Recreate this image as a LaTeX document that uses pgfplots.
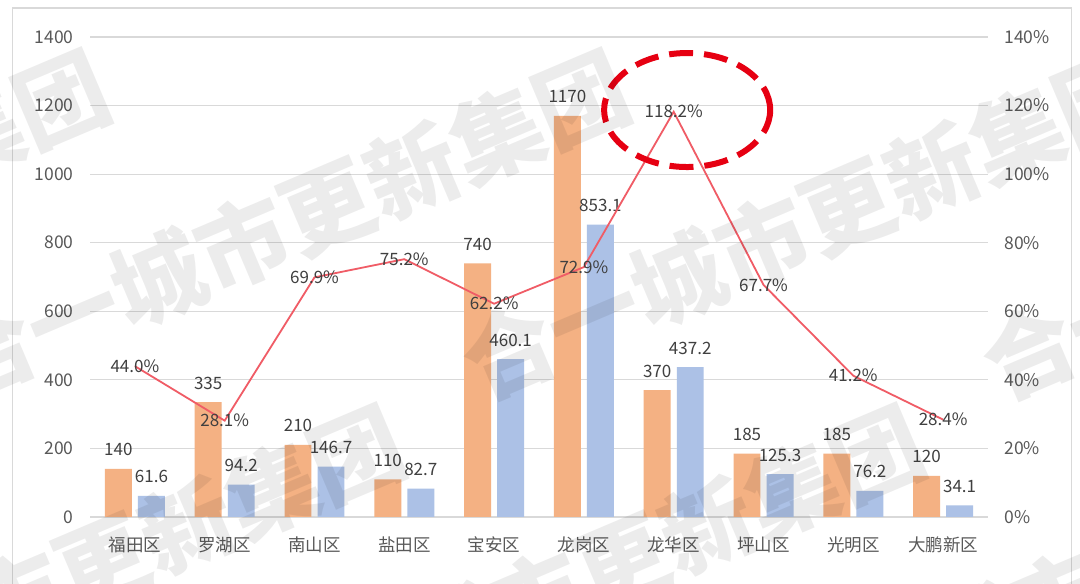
\documentclass[border=0pt]{standalone}
\usepackage{fontspec}
\setmainfont{Noto Sans CJK SC}
\usepackage{pgfplots}
\pgfplotsset{compat=1.18}
\definecolor{barorange}{RGB}{244,177,131}
\definecolor{barblue}{RGB}{172,193,230}
\definecolor{linered}{RGB}{240,92,102}
\definecolor{txt}{RGB}{89,89,89}
\definecolor{lbl}{RGB}{64,64,64}
\definecolor{gridc}{RGB}{217,217,217}
\definecolor{circred}{RGB}{230,0,18}
\begin{document}
\begin{tikzpicture}
\useasboundingbox (0,0) rectangle (1080bp,584bp);
\fill[white] (0,0) rectangle (1080bp,584bp);
\draw[gridc, line width=1.2bp] (12.5bp,-2bp) -- (12.5bp,576bp) -- (1071.5bp,576bp) -- (1071.5bp,-2bp);
\begin{axis}[
  at={(90bp,67bp)}, anchor=south west,
  scale only axis, width=898bp, height=480bp,
  xmin=-0.5, xmax=9.5, ymin=0, ymax=1400,
  ytick={0,200,...,1400},
  xtick={0,...,9},
  xticklabels={福田区,罗湖区,南山区,盐田区,宝安区,龙岗区,龙华区,坪山区,光明区,大鹏新区},
  /pgf/number format/assume math mode=true,
  /pgf/number format/1000 sep={},
  axis line style={draw=none},
  major tick length=0pt,
  ymajorgrids, major grid style={gridc, line width=1.2bp},
  tick label style={font=\fontsize{17.5bp}{20bp}\selectfont, text=txt},
  yticklabel style={xshift=-13bp},
  xticklabel style={yshift=-16bp},
  ybar, bar width=0.3,
  nodes near coords={\pgfmathprintnumber{\pgfplotspointmeta}},
  every node near coord/.append style={font=\fontsize{17bp}{20bp}\selectfont, text=lbl, anchor=base, yshift=13bp},
]
\addplot[fill=barorange, draw=none, bar shift=-0.184] coordinates {
 (0,140) (1,335) (2,210) (3,110) (4,740) (5,1170) (6,370) (7,185) (8,185) (9,120)};
\addplot[fill=barblue, draw=none, bar shift=0.184] coordinates {
 (0,61.6) (1,94.2) (2,146.7) (3,82.7) (4,460.1) (5,853.1) (6,437.2) (7,125.3) (8,76.2) (9,34.1)};
\end{axis}
\begin{axis}[
  at={(90bp,67bp)}, anchor=south west,
  scale only axis, width=898bp, height=480bp,
  xmin=-0.5, xmax=9.5, ymin=0, ymax=140,
  axis y line*=right, axis x line=none,
  ytick={0,20,...,140},
  /pgf/number format/assume math mode=true,
  yticklabel={\pgfmathprintnumber{\tick}\%},
  axis line style={draw=none},
  major tick length=0pt,
  tick label style={font=\fontsize{17.5bp}{20bp}\selectfont, text=txt},
  yticklabel style={xshift=13bp},
  nodes near coords={\pgfmathprintnumber[fixed,fixed zerofill,precision=1]{\pgfplotspointmeta}\%},
  every node near coord/.append style={font=\fontsize{17bp}{20bp}\selectfont, text=lbl, anchor=center},
]
\addplot[linered, line width=1.8bp, mark=none] coordinates {
 (0,44.0) (1,28.1) (2,69.9) (3,75.2) (4,62.2) (5,72.9) (6,118.2) (7,67.7) (8,41.2) (9,28.4)};
\draw[circred, line width=6bp, dash pattern=on 24bp off 11bp] (axis cs:6.15,118.7) ellipse [x radius=83bp, y radius=57bp];
\end{axis}
\begin{scope}[opacity=0.075]
\foreach \cx/\cy in {-235/359, 285/359, 805/359, 1325/359, 60/4, 580/4, 1100/4} {
  \node[rotate=23, text=black, inner sep=0, font=\fontsize{92bp}{92bp}\selectfont\bfseries] at (\cx bp,\cy bp) {合一城市更新集团};
}
\end{scope}
\end{tikzpicture}
\end{document}
